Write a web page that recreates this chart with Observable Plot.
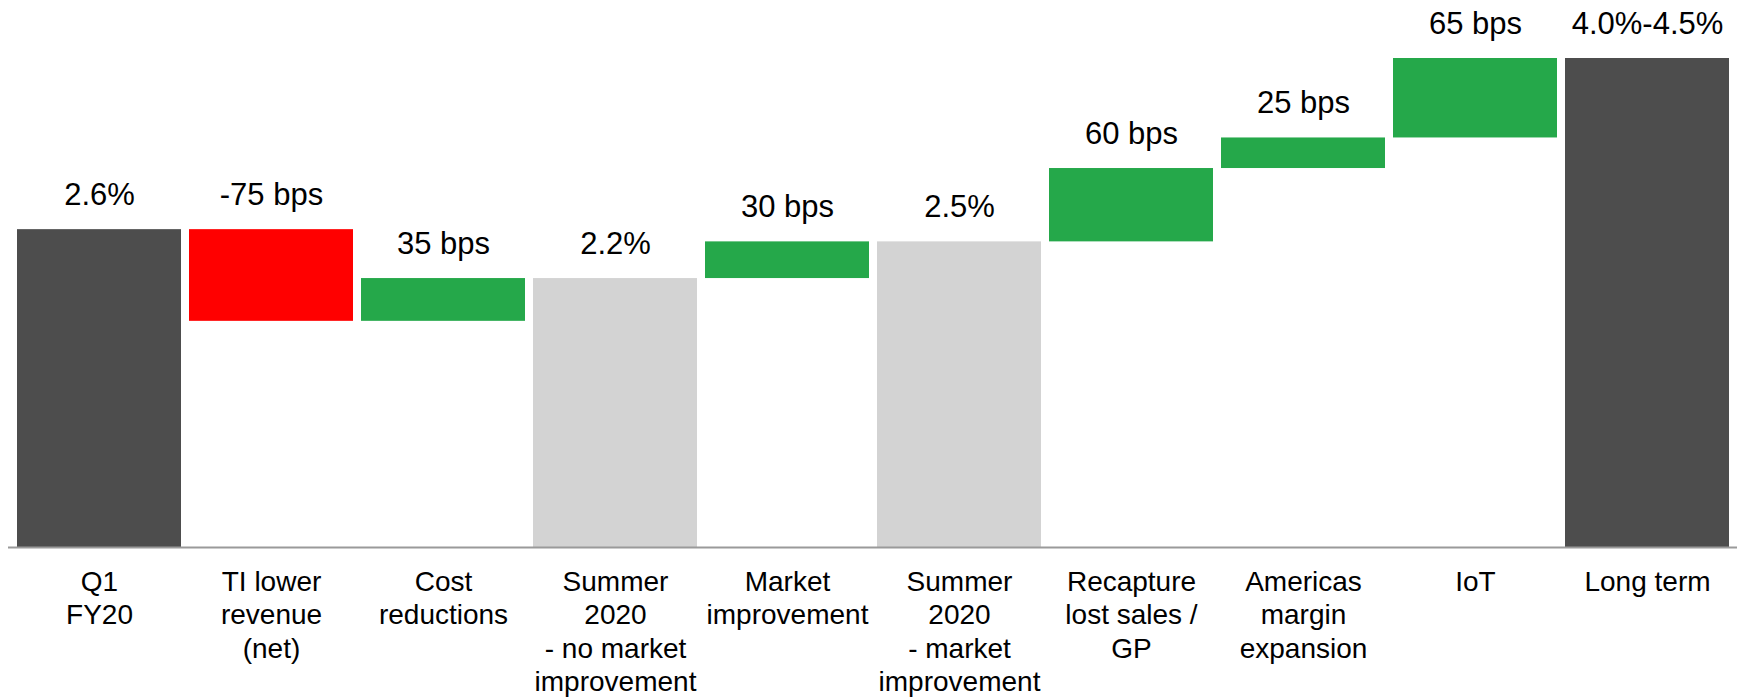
<!DOCTYPE html>
<html>
<head>
<meta charset="utf-8">
<script src="https://cdn.jsdelivr.net/npm/d3@7"></script>
<script src="https://cdn.jsdelivr.net/npm/@observablehq/plot@0.6"></script>
<style>
  html, body { margin: 0; padding: 0; background: #fff; }
  #chart svg { display: block; overflow: visible; }
</style>
</head>
<body>
<div id="chart"></div>
<script>
const categories = [
  "Q1\nFY20",
  "TI lower\nrevenue\n(net)",
  "Cost\nreductions",
  "Summer\n2020\n- no market\nimprovement",
  "Market\nimprovement",
  "Summer\n2020\n- market\nimprovement",
  "Recapture\nlost sales /\nGP",
  "Americas\nmargin\nexpansion",
  "IoT",
  "Long term"
];
const starts = [0, 2.6, 1.85, 0, 2.2, 0, 2.5, 3.1, 3.35, 0];
const ends   = [2.6, 1.85, 2.2, 2.2, 2.5, 2.5, 3.1, 3.35, 4.0, 4.0];
const types  = ["total", "decrease", "increase", "subtotal", "increase", "subtotal", "increase", "increase", "increase", "total"];
const labels = ["2.6%", "-75 bps", "35 bps", "2.2%", "30 bps", "2.5%", "60 bps", "25 bps", "65 bps", "4.0%-4.5%"];

const typeDomain = ["total", "decrease", "increase", "subtotal"];
const typeColors = ["#4d4d4d", "#ff0000", "#25a84a", "#d3d3d3"];

const data = categories.map((c, i) => ({
  cat: c, y1: starts[i], y2: ends[i], type: types[i], label: labels[i],
  top: Math.max(starts[i], ends[i])
}));

const chart = Plot.plot({
  width: 1750,
  height: 699,
  marginLeft: 6,
  marginRight: 9,
  marginTop: 58,
  marginBottom: 152,
  style: { fontFamily: "'Liberation Sans', Arial, sans-serif", background: "#fff", color: "#000" },
  x: { domain: categories, padding: 0.0463, axis: null, label: null },
  y: { domain: [0, 4], axis: null, label: null },
  color: { domain: typeDomain, range: typeColors },
  marks: [
    Plot.barY(data, { x: "cat", y1: "y1", y2: "y2", fill: "type" }),
    Plot.ruleY([0], { stroke: "#9a9a9a", strokeWidth: 2, insetLeft: 2, insetRight: 4 }),
    Plot.text(data, { x: "cat", y: "top", text: "label", dy: -25, lineAnchor: "bottom", fontSize: 31, fill: "#000" }),
    Plot.axisX({ tickSize: 0, tickPadding: 20, fontSize: 28, lineHeight: 1.19, tickFormat: d => d, fill: "#000", label: null })
  ]
});
document.getElementById("chart").appendChild(chart);
</script>
</body>
</html>
